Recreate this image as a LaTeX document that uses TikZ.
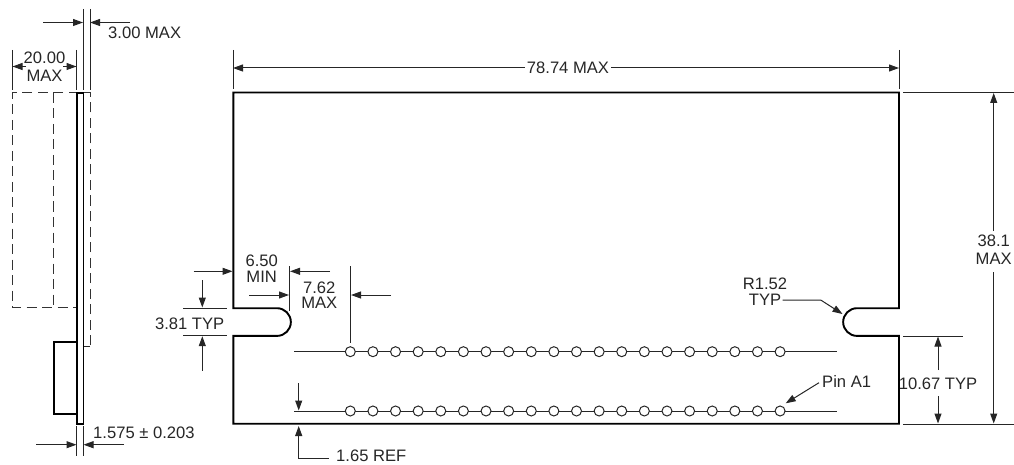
\documentclass[tikz,border=0pt]{standalone}
\usepackage{fontspec}
\setmainfont{Liberation Sans}
\usetikzlibrary{arrows.meta}
\tikzset{
  thin line/.style={line width=1pt,draw=black!85},
  thick line/.style={line width=1.9pt,draw=black,line join=miter},
  dim/.style={thin line,-{Triangle[length=10pt,width=7pt]}},
  hidden/.style={line width=1pt,draw=black!80,dash pattern=on 10pt off 5.5pt},
  lbl/.style={inner sep=0pt,font=\fontsize{16.6}{19}\selectfont,text=black!85,align=center},
  pin/.style={circle,draw=black!85,line width=1pt,fill=white,minimum size=10pt,inner sep=0pt}
}
\begin{document}
\begin{tikzpicture}[x=1pt,y=-1pt]
\useasboundingbox (0,0) rectangle (1014,465);
% ---- side view
\draw[hidden] (90,345) -- (90,93) -- (12.5,93) -- (12.5,307.5) -- (77,307.5);
\draw[hidden] (53.5,93) -- (53.5,307.5);
\draw[thin line] (84,346.5) -- (90,346.5);
\draw[thick line] (77,93) rectangle (83.5,424);
\draw[thick line] (77,342) -- (54,342) -- (54,414) -- (77,414);
% 3.00 MAX
\draw[thin line] (83,9) -- (83,90) (90,9) -- (90,90);
\draw[dim] (43,22.5) -- (83,22.5);
\draw[dim] (130,22.5) -- (90,22.5);
\node[lbl,anchor=west] (t300) at (108,33) {3.00 MAX};
% 20.00 MAX
\draw[thin line] (12.5,50) -- (12.5,90) (76.5,50) -- (76.5,90);
\draw[dim] (26,66.5) -- (12.5,66.5);
\draw[dim] (63,66.5) -- (76.5,66.5);
\node[lbl] (t20) at (44.5,58) {20.00};
\node[lbl] (t20b) at (44.5,76) {MAX};
% 1.575
\draw[thin line] (76.5,426) -- (76.5,456) (83.5,426) -- (83.5,456);
\draw[dim] (36,444.7) -- (76.5,444.7);
\draw[dim] (124,444.7) -- (83.5,444.7);
\node[lbl,anchor=west] (t1575) at (93,432.7) {1.575 ± 0.203};
% ---- board
\draw[thick line] (233.3,92.5) -- (899,92.5) -- (899,308.2) -- (857,308.2)
  arc[start angle=270,end angle=90,radius=13.85] -- (899,335.9) -- (899,423.7)
  -- (233.3,423.7) -- (233.3,335.9) -- (277,335.9)
  arc[start angle=90,end angle=-90,radius=13.85] -- (233.3,308.2) -- cycle;
% pin rows
\draw[thin line] (294,351.7) -- (837,351.7);
\draw[thin line] (294,411) -- (837,411);
\foreach \i in {0,...,19}{
  \node[pin] (a\i) at ({350.3+22.62*\i},351.7) {};
  \node[pin] (b\i) at ({350.3+22.62*\i},411) {};
}
% 78.74 MAX
\draw[thin line] (233,50) -- (233,89) (899,50) -- (899,89);
\node[lbl] (t7874) at (568,68) {78.74 MAX};
\draw[dim] (t7874.west) ++(-2,0) -- (233,68);
\draw[dim] (t7874.east) ++(2,0) -- (899,68);
% 38.1 MAX
\draw[thin line] (903,92.5) -- (1014,92.5) (903,424) -- (1014,424);
\node[lbl] (t381) at (993.7,240.5) {38.1};
\node[lbl] (t381b) at (993.7,259) {MAX};
\draw[dim] (993.7,231) -- (993.7,93);
\draw[dim] (993.7,272) -- (993.7,423.5);
% 10.67 TYP
\draw[thin line] (903,336) -- (963,336);
\node[lbl] (t1067) at (938,384) {10.67 TYP};
\draw[dim] (938,370) -- (938,336.5);
\draw[dim] (938,396) -- (938,423.5);
% R1.52
\node[lbl] (tr) at (765,284) {R1.52};
\node[lbl] (trb) at (765,300) {TYP};
\draw[dim] (782.7,300) -- (820.7,300) -- (842.5,314);
% Pin A1
\node[lbl,anchor=west] (tpin) at (822,381) {Pin A1};
\draw[dim] (819,382.7) -- (785.7,403.3);
% 6.50 MIN
\node[lbl] (t650) at (261.7,260.7) {6.50};
\node[lbl] (t650b) at (261.7,276.7) {MIN};
\draw[dim] (193.7,271.3) -- (232.5,271.3);
\draw[dim] (249,295) -- (289,295);
\draw[thin line] (289,266) -- (289,310.7);
% 7.62 MAX
\node[lbl] (t762) at (319.3,287.7) {7.62};
\node[lbl] (t762b) at (319.3,303) {MAX};
\draw[dim] (330,271.3) -- (290,271.3);
\draw[thin line] (350.3,266) -- (350.3,343.3);
\draw[dim] (391,295) -- (351,295);
% 3.81 TYP
\node[lbl,anchor=east] (t381t) at (224.5,324) {3.81 TYP};
\draw[thin line] (183,308) -- (226.7,308) (183,335.7) -- (226.7,335.7);
\draw[dim] (202.3,280) -- (202.3,307.5);
\draw[dim] (202.3,370.7) -- (202.3,336.2);
% 1.65 REF
\draw[dim] (298.7,383.3) -- (298.7,410.5);
\node[lbl,anchor=west] (t165) at (336,455.5) {1.65 REF};
\draw[dim] (329,458.5) -- (298.7,458.5) -- (298.7,426);
\end{tikzpicture}
\end{document}
